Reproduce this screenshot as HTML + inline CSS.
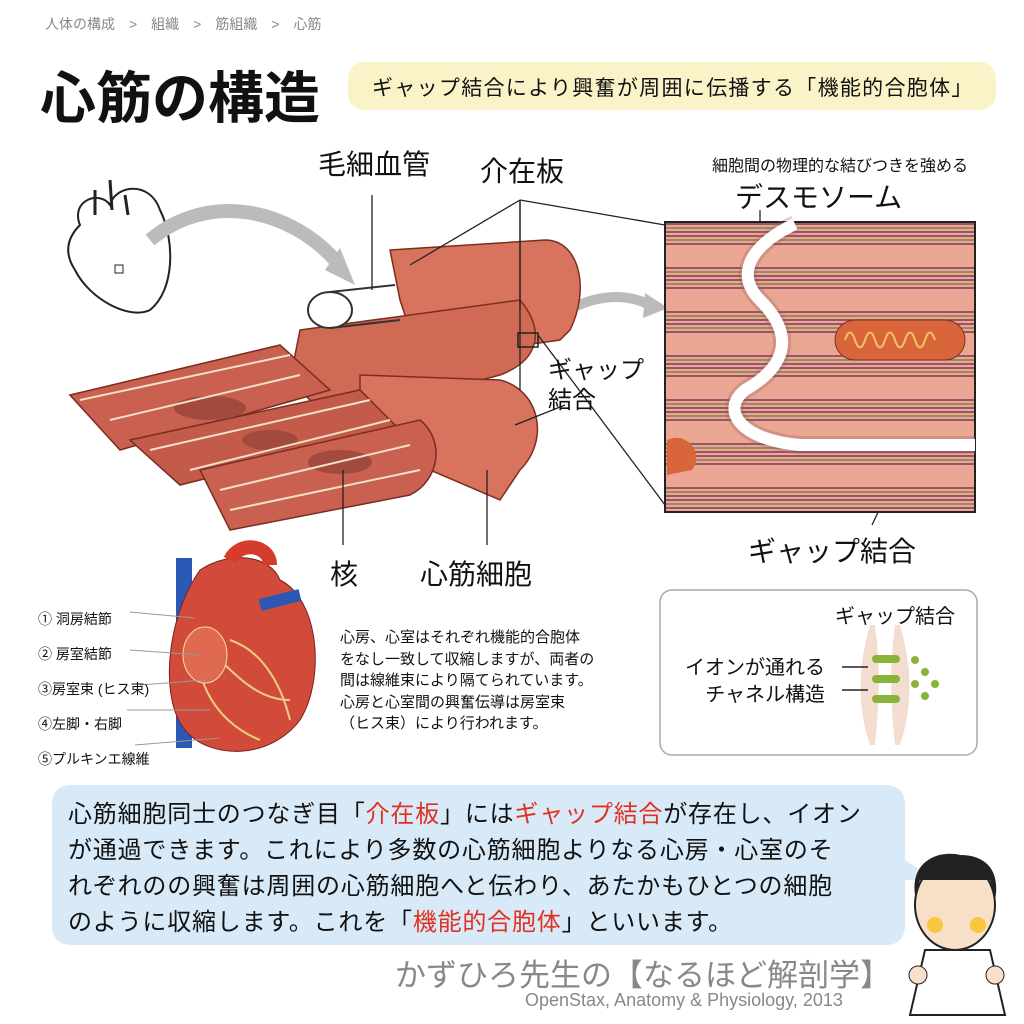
<!DOCTYPE html>
<html><head><meta charset="utf-8"><style>
body{margin:0;width:1024px;height:1024px;background:#fff;overflow:hidden;font-family:"Liberation Sans","Noto Sans CJK JP",sans-serif;}
svg{position:absolute;left:0;top:0}
.t{position:absolute;white-space:nowrap;color:#111}
</style></head><body>
<svg width="1024" height="1024" viewBox="0 0 1024 1024">
<defs>
<pattern id="str" width="310" height="44" patternUnits="userSpaceOnUse"><rect width="310" height="44" fill="#eba794"/><line x1="0" y1="4" x2="310" y2="4" stroke="#7a3a5a" stroke-width="1.5"/><line x1="0" y1="8" x2="310" y2="8" stroke="#6b7a3a" stroke-width="1.2"/><line x1="0" y1="12" x2="310" y2="12" stroke="#7a3a5a" stroke-width="1.5"/><line x1="0" y1="16" x2="310" y2="16" stroke="#7a3a5a" stroke-width="1.5"/><line x1="0" y1="20" x2="310" y2="20" stroke="#6b7a3a" stroke-width="1.2"/><line x1="0" y1="24" x2="310" y2="24" stroke="#7a3a5a" stroke-width="1.5"/></pattern>
</defs>
<rect x="348" y="62" width="648" height="48" rx="16" fill="#fbf3c8"/>
<path d="M80 225 C70 200 100 190 110 205 C115 185 150 180 160 210 C175 240 175 290 150 310 C130 320 90 300 75 270 C62 250 70 235 80 225Z" fill="#fff" stroke="#222" stroke-width="2"/>
<path d="M95 190 L95 215 M110 180 L112 210 M125 195 L128 215" stroke="#222" stroke-width="3" fill="none"/>
<rect x="115" y="265" width="8" height="8" fill="none" stroke="#222"/>
<path d="M150 240 C210 190 290 210 335 260" stroke="#bbb" stroke-width="14" fill="none"/>
<polygon points="325,270 355,285 340,248" fill="#bbb"/>
<path d="M540 330 C580 295 620 290 650 305" stroke="#bbb" stroke-width="10" fill="none"/>
<polygon points="645,293 668,308 643,318" fill="#bbb"/>
<g stroke="#7a2e20" stroke-width="1.5">
<path d="M390 250 L545 240 C580 240 590 290 570 330 L560 340 L420 360 L400 300Z" fill="#d8745e"/>
<path d="M300 330 L520 300 C545 330 540 360 500 375 L330 420 L290 380Z" fill="#d06a55"/>
<path d="M70 395 L280 345 L330 390 L120 450Z" fill="#c96050"/>
<path d="M360 375 L500 380 C540 390 550 440 520 470 L500 500 L360 440Z" fill="#d8745e"/>
<path d="M130 440 L360 390 L400 430 L180 485Z" fill="#c45a4a"/>
<path d="M200 470 L420 420 C445 440 440 480 410 495 L230 530Z" fill="#c96050"/>
</g>
<ellipse cx="210" cy="408" rx="36" ry="12" fill="#a24a3e"/>
<ellipse cx="340" cy="462" rx="32" ry="12" fill="#a24a3e"/>
<ellipse cx="270" cy="440" rx="28" ry="10" fill="#a24a3e"/>
<path d="M80 400 L290 355 M110 420 L300 375 M150 450 L370 400 M190 470 L390 420 M220 490 L410 445 M230 510 L420 470" stroke="#f2e0c8" stroke-width="2" fill="none"/>
<ellipse cx="330" cy="310" rx="22" ry="18" fill="#fff" stroke="#333" stroke-width="2"/>
<path d="M330 292 L395 285 M330 328 L400 320" stroke="#333" stroke-width="2"/>
<rect x="518" y="333" width="20" height="14" fill="none" stroke="#222" stroke-width="1.5"/>
<g stroke="#222" stroke-width="1.3" fill="none">
<line x1="372" y1="195" x2="372" y2="290"/>
<line x1="520" y1="200" x2="410" y2="265"/><line x1="520" y1="200" x2="520" y2="310"/><line x1="520" y1="200" x2="520" y2="390"/><line x1="520" y1="200" x2="665" y2="225"/><line x1="538" y1="335" x2="665" y2="505"/>
<line x1="760" y1="210" x2="760" y2="238"/>
<line x1="565" y1="405" x2="515" y2="425"/>
<line x1="343" y1="470" x2="343" y2="545"/>
<line x1="487" y1="470" x2="487" y2="545"/>
<line x1="910" y1="445" x2="872" y2="525"/>
</g>
<rect x="665" y="222" width="310" height="290" fill="url(#str)" stroke="#222" stroke-width="2"/>
<path d="M795 224 C760 240 730 270 760 300 C800 340 780 370 745 390 C720 410 740 440 800 445 L975 445" stroke="#9a6060" stroke-width="18" fill="none" opacity=".3"/>
<path d="M795 224 C760 240 730 270 760 300 C800 340 780 370 745 390 C720 410 740 440 800 445 L975 445" stroke="#fff" stroke-width="12" fill="none"/>
<rect x="835" y="320" width="130" height="40" rx="20" fill="#d8663a" stroke="#7a3020"/>
<path d="M845 340 q5 -15 10 0 q5 15 10 0 q5 -15 10 0 q5 15 10 0 q5 -15 10 0 q5 15 10 0 q5 -15 10 0 q5 15 10 0 q5 -15 10 0" stroke="#f5c060" stroke-width="2" fill="none"/>
<path d="M667 440 a20 20 0 0 1 25 30 l-25 5Z" fill="#d8663a"/>
<rect x="176" y="558" width="16" height="190" fill="#2b58b5"/>
<path d="M200 570 C230 550 270 555 280 580 C320 600 325 680 300 720 C270 760 210 760 185 730 C160 700 165 620 200 570Z" fill="#d14a3a" stroke="#7a2020"/>
<path d="M230 560 C240 540 270 545 270 565" stroke="#d63c2c" stroke-width="14" fill="none"/>
<path d="M260 605 L300 595" stroke="#2b58b5" stroke-width="12"/>
<path d="M200 630 C190 670 210 720 260 740 M210 650 C240 680 260 700 290 700 M230 640 C260 650 280 680 290 720" stroke="#e8d080" stroke-width="2" fill="none"/>
<ellipse cx="205" cy="655" rx="22" ry="28" fill="#e06a50" stroke="#f0e0a0"/>
<g stroke="#999" stroke-width="1"><line x1="130" y1="612" x2="195" y2="618"/><line x1="130" y1="650" x2="200" y2="655"/><line x1="140" y1="685" x2="205" y2="680"/><line x1="127" y1="710" x2="210" y2="710"/><line x1="135" y1="745" x2="220" y2="738"/></g>
<rect x="660" y="590" width="317" height="165" rx="12" fill="#fff" stroke="#aaa" stroke-width="1.5"/>
<path d="M870 625 C860 660 855 700 870 745 L900 745 C915 700 910 660 900 625Z" fill="#f3ddd0"/>
<path d="M875 625 C880 660 880 700 875 745 L895 745 C890 700 890 660 895 625Z" fill="#fff"/>
<g fill="#8ab33a"><rect x="872" y="655" width="28" height="8" rx="4"/><rect x="872" y="675" width="28" height="8" rx="4"/><rect x="872" y="695" width="28" height="8" rx="4"/><circle cx="915" cy="660" r="4"/><circle cx="925" cy="672" r="4"/><circle cx="915" cy="684" r="4"/><circle cx="925" cy="696" r="4"/><circle cx="935" cy="684" r="4"/></g>
<path d="M842 667 L868 667 M842 690 L868 690" stroke="#222" stroke-width="1.5"/>
<path d="M72 785 L885 785 Q905 785 905 805 L905 860 L935 880 L905 880 L905 925 Q905 945 885 945 L72 945 Q52 945 52 925 L52 805 Q52 785 72 785Z" fill="#d8eaf8"/>
<ellipse cx="955" cy="905" rx="40" ry="45" fill="#f8e0c8" stroke="#222" stroke-width="2"/>
<path d="M915 895 C910 860 940 850 960 855 C990 855 1000 875 995 900 L990 880 L920 880Z" fill="#222"/>
<circle cx="935" cy="925" r="8" fill="#f5c840"/><circle cx="978" cy="925" r="8" fill="#f5c840"/>
<path d="M925 950 L990 950 L1005 1015 L910 1015Z" fill="#fff" stroke="#222" stroke-width="2"/>
<circle cx="918" cy="975" r="9" fill="#f8e0c8" stroke="#222"/><circle cx="995" cy="975" r="9" fill="#f8e0c8" stroke="#222"/>
</svg>
<div class="t" style="left:45px;top:14px;font-size:14px;color:#888">人体の構成　&gt;　組織　&gt;　筋組織　&gt;　心筋</div>
<div class="t" style="left:40px;top:54px;font-size:56px;font-weight:bold">心筋の構造</div>
<div class="t" style="left:372px;top:72px;font-size:21px;letter-spacing:1.3px">ギャップ結合により興奮が周囲に伝播する「機能的合胞体」</div>
<div class="t" style="left:318px;top:143px;font-size:28px">毛細血管</div>
<div class="t" style="left:480px;top:150px;font-size:28px">介在板</div>
<div class="t" style="left:712px;top:152px;font-size:16px">細胞間の物理的な結びつきを強める</div>
<div class="t" style="left:735px;top:176px;font-size:28px">デスモソーム</div>
<div class="t" style="left:548px;top:356px;font-size:24px;line-height:30px">ギャップ<br>結合</div>
<div class="t" style="left:748px;top:530px;font-size:28px">ギャップ結合</div>
<div class="t" style="left:330px;top:553px;font-size:28px">核</div>
<div class="t" style="left:420px;top:553px;font-size:28px">心筋細胞</div>
<div class="t" style="left:38px;top:602px;font-size:14px;line-height:35px">① 洞房結節<br>② 房室結節<br>③房室束 (ヒス束)<br>④左脚・右脚<br>⑤プルキンエ線維</div>
<div class="t" style="left:340px;top:627px;font-size:15px;line-height:21.5px">心房、心室はそれぞれ機能的合胞体<br>をなし一致して収縮しますが、両者の<br>間は線維束により隔てられています。<br>心房と心室間の興奮伝導は房室束<br>（ヒス束）により行われます。</div>
<div class="t" style="left:835px;top:600px;font-size:20px">ギャップ結合</div>
<div class="t" style="left:685px;top:655px;font-size:20px;line-height:27px;text-align:right">イオンが通れる<br>チャネル構造</div>
<div class="t" style="left:68px;top:797px;font-size:24px;line-height:36px;letter-spacing:0.8px">心筋細胞同士のつなぎ目「<span style="color:#e03020">介在板</span>」には<span style="color:#e03020">ギャップ結合</span>が存在し、イオン<br>が通過できます。これにより多数の心筋細胞よりなる心房・心室のそ<br>れぞれのの興奮は周囲の心筋細胞へと伝わり、あたかもひとつの細胞<br>のように収縮します。これを「<span style="color:#e03020">機能的合胞体</span>」といいます。</div>
<div class="t" style="left:395px;top:950px;font-size:31px;color:#888">かずひろ先生の【なるほど解剖学】</div>
<div class="t" style="left:525px;top:990px;font-size:18px;color:#888">OpenStax, Anatomy &amp; Physiology, 2013</div>
</body></html>
